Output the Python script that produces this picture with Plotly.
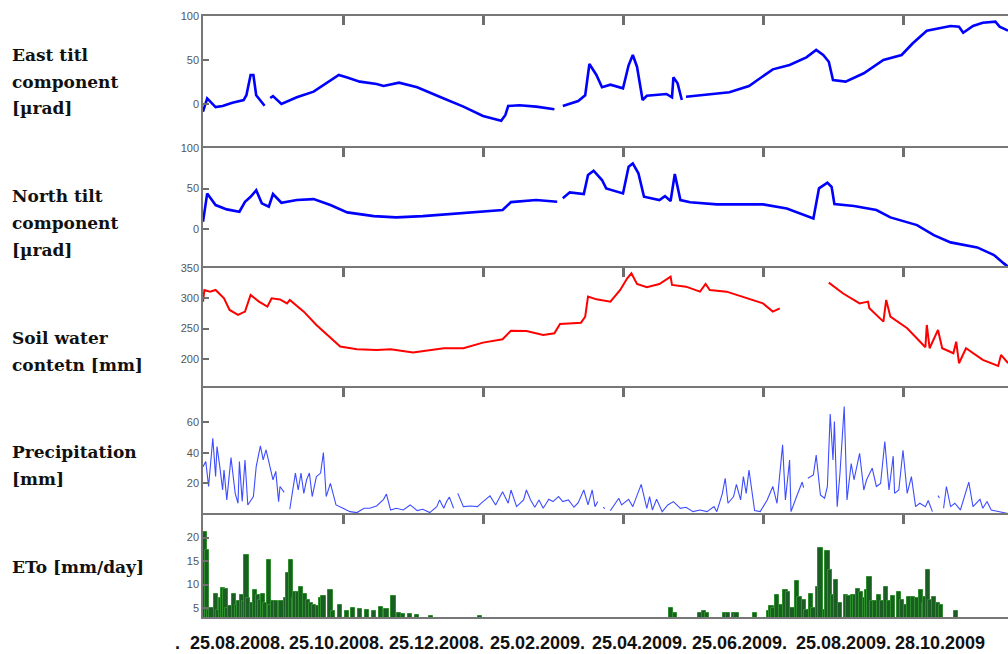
import plotly.graph_objects as go

# ---------------- data (x = day index from start of record) ----------------
east_day = [0, 3, 9, 14, 21, 29, 31, 34, 36, 38, 44, None,
            48, 50, 56, 67, 79, 86, 97, 103, 112, 124, 129, 140, 153, 169, 186, 200, 213, 216, 218, 226, 238, 251, None,
            257, 268, 273, 275, 276, 281, 285, 291, 300, 304, 307, 310, 314, 317, 331, 335, 336, 339, 342, None,
            345, 360, 376, 390, 407, 419, 431, 438, 443, 447, 450, 459, 472, 486, 499, 507, 517, 534, 540, 543, 550, 557, 566, 569, 575]
east_val = [-8.7, 6.4, -3.5, -2.3, 1.5, 4.5, 10, 33, 33, 10, -2, None,
            6.8, 9, 0, 7.6, 14, 21.6, 33, 30, 25.4, 22.7, 20.5, 24.2, 19, 8.3, -3, -13.6, -19, -12.5, -2.3, -1.5, -3, -6, None,
            -2.3, 3.4, 10, 33, 45.5, 33, 19, 22, 17.8, 44, 55.7, 42.4, 4.5, 9.4, 11.4, 7.6, 30.3, 23.5, 4.5, None,
            8.3, 11, 13.3, 20.5, 39.4, 44.3, 53, 61.4, 55.7, 48, 27.3, 25.4, 34.9, 50, 55.7, 69, 83.3, 88.6, 87.9, 81, 88.6, 92.4, 93.6, 87.9, 83.3]

north_day = [0, 3, 9, 17, 26, 30, 34, 38, 42, 47, 50, 56, 67, 79, 91, 103, 122, 138, 157, 181, 214, 220, 238, 253, None,
             257, 262, 272, 275, 279, 285, 288, 300, 304, 307, 311, 315, 326, 330, 334, 337, 341, 348, 367, 400, 417, 436,
             440, 446, 449, 451, 465, 481, 491, 510, 522, 534, 553, 565, 572, 575]
north_val = [9, 44, 29.6, 24.3, 21.4, 33.7, 39.9, 48, 31.7, 27.5, 43.2, 32.5, 35.8, 37, 29.6, 20.6, 16, 14.4, 16, 19.3, 23.5, 33.3, 35.8, 33.7, None,
             37.9, 45.3, 43.2, 66.7, 72, 60.5, 50.2, 44, 77, 81, 68.8, 39.9, 35.8, 40.7, 34.6, 67.9, 35.8, 33, 30.5, 30.5, 25.5, 13.2,
             50.2, 57.2, 52.2, 30.9, 28.4, 23.5, 14.4, 4.9, -7.4, -16.4, -22.6, -32, -42.3, -46.5]

soil_day = [0, 1, 5, 9, 15, 19, 25, 30, 34, 40, 46, 49, 55, 60, 62, 72, 81, 91, 98, 110, 124, 134, 150, 172, 186, 200, 214,
            220, 231, 243, 251, 255, 270, 273, 275, 281, 291, 298, 303, 306, 310, 317, 326, 334, 335, 345, 355, 359, 362,
            374, 388, 400, 407, 412, None,
            447, 457, 469, 475, 476, 486, 488, 491, 503, 516, 517, 519, 525, 528, 536, 538, 540, 545, 557, 568, 570, 575]
soil_val = [294.5, 313.7, 311, 313.7, 300, 280.8, 272.5, 278, 305.5, 294.5, 286.2, 300, 298.2, 291.6, 297.2, 278, 256, 234, 220.3,
            216, 214.8, 216, 210.4, 217.6, 217.6, 226.9, 232.4, 246.6, 246.1, 239.6, 242.4, 257.7, 259.8, 269.6, 302.7, 298.3,
            294.5, 313.7, 333, 341.2, 323.6, 318.2, 323.6, 335.7, 322, 319.2, 311, 323.6, 313.7, 311, 300, 291.6, 278, 283.5, None,
            325.8, 308.3, 291.6, 294.5, 283.5, 261.5, 297.2, 269.7, 250.6, 219.3, 256, 217.6, 247.8, 217.6, 209.3, 228.5, 192.9,
            217.6, 198.4, 188.5, 206.6, 193]

precip_day = [0, 2, 4, 7, 9, 10, 12, 14, 15, 17, 20, 23, 25, 26, 28, 30, 32, 36, 38, 41, 43, 45, 47, 50, 52, 54, 55, 58, None,
              62, 65, 66, 68, 70, 72, 74, 76, 78, 81, 84, 86, 88, 91, 93, 95, 100, 105, 110, 115, 119, 124, 129, 131, 134,
              138, 143, 148, 153, 157, 162, 167, 169, 172, 174, 176, 179, None,
              182, 186, 191, 196, 200, 205, 209, 214, 218, 220, 224, 229, 231, 234, 237, 240, 243, 247, 250, 254, 257, 261,
              265, 268, 272, 275, 278, 280, 282, None, 286, 287, None,
              291, 297, 299, 304, 307, 313, 317, 319, 321, 324, 328, 332, 336, 341, 345, 350, 355, 360, 365, 367, 371, 373,
              375, 379, 381, 384, 386, 388, 390, 392, 394, 398, 403, 407, 410, 414, 416, 419, 420, 424, 428, 429, None,
              432, 436, 438, 441, 444, 446, 448, 450, 451, 453, 455, 458, 460, 463, 465, 467, 469, 472, 474, 478, 481, 484,
              487, 490, 493, 494, 497, 500, 503, 506, 509, 512, 516, 518, 521, None, 525, 526, None,
              529, 531, 534, 537, 541, 544, 547, 550, 555, 557, 560, 563, 569, 575]
precip_val = [31, 34.3, 18, 49.6, 24.5, 44.2, 31, 15.7, 28.8, 9.2, 36.9, 13.5, 7, 34.3, 8.1, 35.4, 5.9, 11.4, 31, 44.6, 35.4,
              42, 34.3, 22.4, 27.9, 8.1, 18, 14.1, None,
              3.1, 20, 26.8, 15.7, 26.8, 13.5, 22.4, 26.8, 11.4, 24.5, 26.8, 40.3, 11.4, 20, 13.5, 5.9, 3.7, 1.5, 0.9, 3.7,
              3.7, 5.2, 9.6, 13, 2.6, 3.7, 2.6, 5.9, 2.2, 3.1, 0.9, 4.8, 9.2, 3.7, 8.1, 11, 3.7, None,
              13.5, 4.8, 5.2, 4.8, 8.1, 11.8, 5.9, 14.6, 7, 15.7, 4.8, 9.2, 15.7, 9.2, 4.4, 9.2, 3.7, 9.6, 8.1, 11.4, 8.1, 9.2,
              4.4, 7.4, 15.7, 5.9, 15.7, 4.8, 8.1, None, 4.4, 3.5, None,
              2.2, 10.3, 5.9, 9.6, 4.8, 19.4, 3.7, 11.4, 2.6, 9.6, 1.5, 5.9, 8.1, 3.7, 4.4, 1.5, 2.6, 1.5, 4.8, 1.5, 13.5, 23.4,
              7, 11.4, 19.4, 9.2, 24.5, 13.5, 28.8, 13.5, 2.2, 1.5, 9.2, 18, 7, 45.3, 9.2, 35.4, 1.5, 11.4, 20.9, 17.2, None,
              23.4, 25.6, 38.6, 12.5, 10.3, 18, 65.6, 35.4, 60.6, 4.8, 26.8, 70.4, 9.2, 33.1, 22.4, 32, 39.7, 15.7, 22.4, 30,
              18, 20, 47.4, 15.7, 37.9, 13.5, 15.7, 41.8, 13.5, 24.5, 4.8, 7, 4.8, 8.8, 1.5, None, 12, 10.5, None,
              3.7, 18, 4.8, 7, 2.6, 12.5, 20.9, 4.8, 9.6, 3.7, 8.1, 2.6, 1.5, 0.3]

eto_day = [1, 3, 4, 6, 9, 11, 13, 14, 16, 17, 19, 22, 24, 26, 28, 29, 31, 32, 35, 37, 39, 41, 43, 44, 47, 48, 50, 52, 55,
           56, 59, 61, 63, 65, 66, 68, 70, 73, 75, 77, 79, 82, 84, 86, 91, 93, 98, 103, 107, 112, 117, 122, 127, 131,
           136, 140, 143, 148, 153, 163, 198,
           334, 337, 355, 358, 360, 373, 375, 379, 381, 394, 404, 406, 407, 410, 413, 416, 418, 421, 424, 426, 429, 431,
           434, 436, 439, 441, 444, 446, 448, 450, 452, 455, 459, 461, 464, 466, 468, 470, 473, 474, 476, 478, 480, 483,
           485, 488, 490, 493, 497, 499, 502, 504, 507, 510, 513, 515, 516, 518, 519, 522, 525, 527, 538]
eto_val = [21.2, 17.3, 4.6, 5, 8.1, 4.6, 7.1, 9.2, 9, 5, 5.4, 8.1, 5.7, 6.4, 7.8, 6.4, 16.3, 7.1, 6.1, 8.9, 7.8, 6.8, 8.1,
           6.1, 15.2, 5.7, 6.4, 6.6, 5, 6.4, 7.1, 12.4, 15.2, 7.1, 8.5, 8.5, 9.4, 8.1, 6.8, 6.1, 5.7, 5.4, 7.1, 7.5, 8.9,
           4.3, 5.7, 4.3, 5, 4.8, 4.6, 4.4, 5.2, 4.8, 7.5, 3.9, 3.8, 3.8, 3.5, 3.4, 3.4,
           5, 3.9, 4, 4.4, 3.9, 3.9, 4, 4, 3.9, 4, 4.3, 5.4, 5, 7.7, 5.7, 8.9, 8.5, 5, 10.7, 7.3, 6.8, 4.6, 8.1, 5, 9.4,
           17.7, 4.6, 17.2, 13.2, 7.8, 10.9, 6.1, 7.7, 7.5, 7.7, 7.8, 9, 8.5, 7.1, 8.8, 11.6, 6.4, 6.6, 7.7, 6.4, 9.5,
           6.4, 7.6, 8.5, 6.8, 5.7, 7.3, 7.3, 7.1, 8.9, 6.1, 7.3, 13.2, 6.8, 7.3, 6, 5.7, 4.3]

row_labels = [["East titl", "component", "[µrad]"],
              ["North tilt", "component", "[µrad]"],
              ["Soil water", "contetn [mm]"],
              ["Precipitation", "[mm]"],
              ["ETo [mm/day]"]]
date_labels = [".", "25.08.2008.", "25.10.2008.", "25.12.2008.", "25.02.2009.", "25.04.2009.",
               "25.06.2009.", "25.08.2009.", "28.10.2009"]

x_ticks = [100, 200, 300, 400, 500]
y_ranges = [[-50, 100], [-48, 100], [152, 350], [-0.7, 82.6], [3.1, 24.8]]
y_ticks = [[0, 50, 100], [0, 50, 100], [200, 250, 300, 350], [20, 40, 60], [5, 10, 15, 20]]

# ---------------- layout geometry (page pixels) ----------------
W, H = 1008, 654
PLOT_L, PLOT_R, PLOT_T, PLOT_B = 203, 1008, 16, 617
ML, MR, MT, MB = PLOT_L, W - PLOT_R, PLOT_T, H - PLOT_B
PH = PLOT_B - PLOT_T
PW = PLOT_R - PLOT_L
bounds = [16, 148, 268, 388, 515, 617]
label_rows = [[55, 82, 108], [196, 223, 250], [338, 365], [452, 479], [567]]
date_x = [173, 188, 287, 387, 488, 590, 690, 794, 893]
AX = "#777777"
TK = "#6e6e6e"


def py2paper(py):
    return (PLOT_B - py) / PH


def px2paper(px):
    return (px - PLOT_L) / PW


fig = go.Figure()

fig.add_trace(go.Scatter(x=east_day, y=east_val, mode="lines", line=dict(color="#0000ff", width=2.6),
                         xaxis="x", yaxis="y", connectgaps=False, showlegend=False))
fig.add_trace(go.Scatter(x=north_day, y=north_val, mode="lines", line=dict(color="#0000ff", width=2.6),
                         xaxis="x2", yaxis="y2", connectgaps=False, showlegend=False))
fig.add_trace(go.Scatter(x=soil_day, y=soil_val, mode="lines", line=dict(color="#ff0000", width=2),
                         xaxis="x3", yaxis="y3", connectgaps=False, showlegend=False))
fig.add_trace(go.Scatter(x=precip_day, y=precip_val, mode="lines", line=dict(color="#3d4dff", width=1.1),
                         xaxis="x4", yaxis="y4", connectgaps=False, showlegend=False))
fig.add_trace(go.Bar(x=eto_day, y=eto_val, width=3,
                     marker=dict(color="#1b5e23", line=dict(color="#2f8f2f", width=1)),
                     xaxis="x5", yaxis="y5", showlegend=False))

layout = dict(width=W, height=H, margin=dict(l=ML, r=MR, t=MT, b=MB, pad=0),
              paper_bgcolor="white", plot_bgcolor="white", bargap=0, showlegend=False)

for i in range(5):
    n = "" if i == 0 else str(i + 1)
    top, bot = bounds[i], bounds[i + 1]
    layout["xaxis" + n] = dict(domain=[0, 1], range=[0, 575], anchor="y" + n,
                               showticklabels=False, side="top", ticks="inside", ticklen=9,
                               tickcolor=TK, tickwidth=2.5, tickvals=x_ticks,
                               showline=True, mirror=(i == 4), linecolor=AX, linewidth=1.5)
    layout["yaxis" + n] = dict(domain=[py2paper(bot), py2paper(top)], range=y_ranges[i], anchor="x" + n,
                               tickvals=y_ticks[i], ticks="inside", ticklen=6, tickcolor=TK, tickwidth=2,
                               showline=True, linecolor=AX, linewidth=1.5,
                               showgrid=False, zeroline=False,
                               tickfont=dict(family="Liberation Sans", size=11, color="#555"))

annotations = []
for lines, ys in zip(row_labels, label_rows):
    for txt, py in zip(lines, ys):
        annotations.append(dict(text="<b>" + txt + "</b>", xref="paper", yref="paper",
                                x=px2paper(10), y=py2paper(py),
                                xanchor="left", yanchor="middle", showarrow=False,
                                font=dict(family="DejaVu Serif", size=17, color="#111")))

for txt, px in zip(date_labels, date_x):
    annotations.append(dict(text="<b>" + txt + "</b>", xref="paper", yref="paper",
                            x=px2paper(px), y=py2paper(643), xanchor="left", yanchor="middle",
                            showarrow=False,
                            font=dict(family="Liberation Sans", size=18, color="#111")))
layout["annotations"] = annotations
fig.update_layout(**layout)
fig.update_xaxes(showgrid=True, gridcolor="rgba(0,0,0,0)", zeroline=False)

fig.write_html("out.html", config={"displayModeBar": False},
               post_script="document.body.style.margin='0';document.body.style.overflow='hidden';")
